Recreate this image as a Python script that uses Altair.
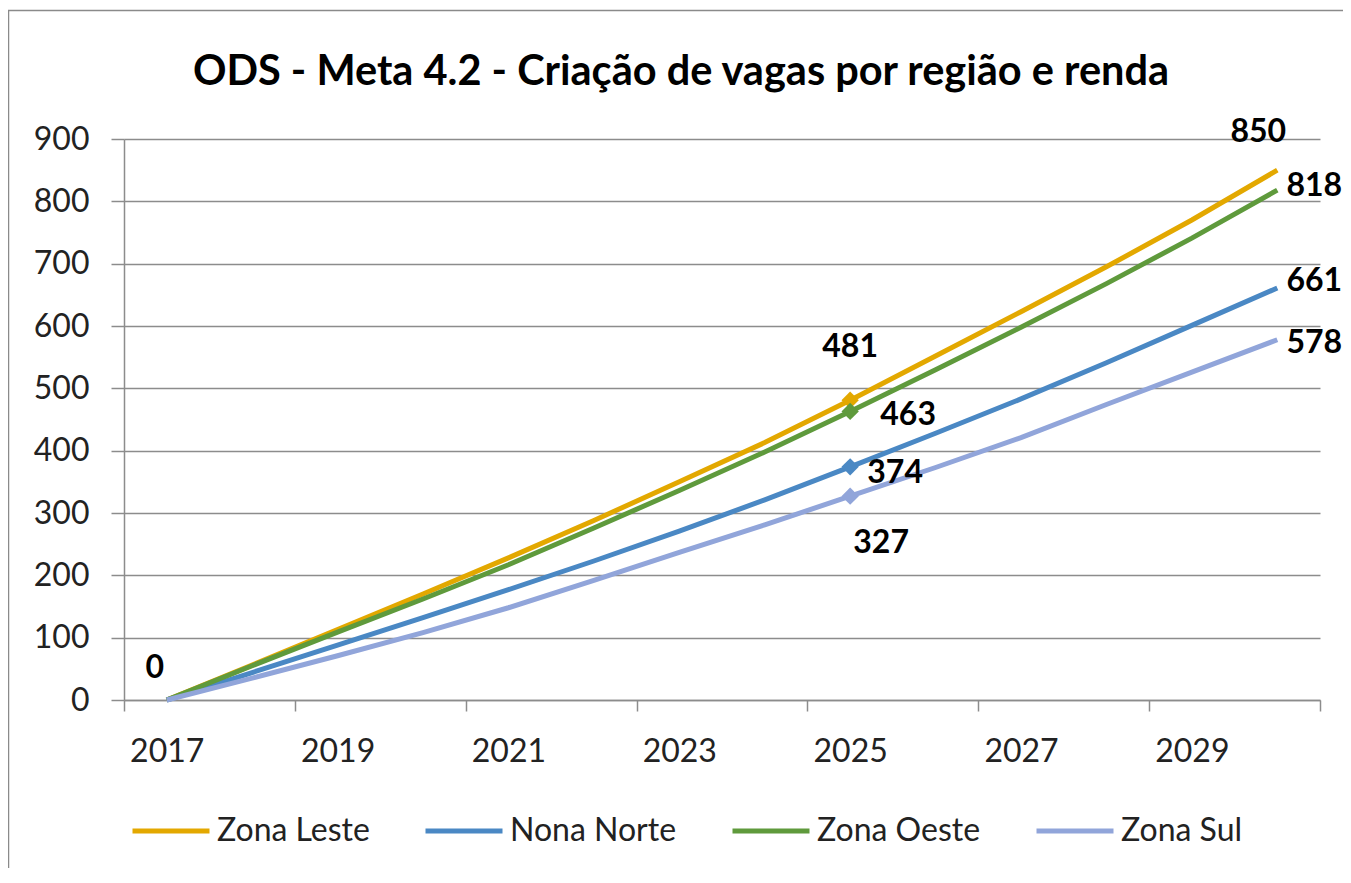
import altair as alt
import pandas as pd

# ---- data ----
years = list(range(2017, 2031))
series_names = ["Zona Leste", "Nona Norte", "Zona Oeste", "Zona Sul"]
zona_leste = [0, 56, 113, 170, 228, 288, 350, 413, 481, 552, 623, 695, 770, 850]
nona_norte = [0, 44, 88, 132, 177, 223, 271, 321, 374, 428, 483, 541, 601, 661]
zona_oeste = [0, 55, 109, 162, 217, 276, 336, 398, 463, 530, 598, 668, 741, 818]
zona_sul = [0, 35, 71, 108, 148, 192, 237, 281, 327, 373, 421, 474, 526, 578]
colors = ["#E3A800", "#4A88C4", "#5F9A3C", "#91A5DA"]
title_text = "ODS - Meta 4.2 - Criação de vagas por região e renda"
label_years = [2017, 2019, 2021, 2023, 2025, 2027, 2029]
tick_bounds = [2016.5, 2018.5, 2020.5, 2022.5, 2024.5, 2026.5, 2028.5, 2030.5]
y_ticks = [0, 100, 200, 300, 400, 500, 600, 700, 800, 900]
marker_year = 2025

# data labels: (series, year, dx, dy)
label_specs = [
    ("Zona Leste", 2017, -12, -32),
    ("Zona Leste", 2025, 0, -53),
    ("Zona Oeste", 2025, 58, 4),
    ("Nona Norte", 2025, 45, 6),
    ("Zona Sul", 2025, 31, 47),
    ("Zona Leste", 2030, -19, -38),
    ("Zona Oeste", 2030, 37, -4),
    ("Nona Norte", 2030, 37, -7),
    ("Zona Sul", 2030, 37, 3),
]

rows = []
for name, vals in zip(series_names, [zona_leste, nona_norte, zona_oeste, zona_sul]):
    for yr, v in zip(years, vals):
        rows.append({"ano": yr, "serie": name, "valor": v})
df = pd.DataFrame(rows)

FONT = "Lato"
GRID = "#8C8C8C"
axis_values = sorted(label_years + tick_bounds)

x_enc = alt.X(
    "ano:Q",
    scale=alt.Scale(domain=[2016.5, 2030.5], nice=False, zero=False),
    axis=alt.Axis(
        values=axis_values,
        labelExpr="datum.value % 1 == 0 ? toString(datum.value) : ''",
        tickOpacity={"condition": {"test": "datum.value % 1 == 0", "value": 0}, "value": 1},
        grid=False,
        title=None,
        tickSize=11,
        tickWidth=1.5,
        tickColor=GRID,
        domainColor=GRID,
        domainWidth=1.5,
        labelPadding=25,
        labelFont=FONT,
        labelFontSize=32,
        labelColor="#222222",
        labelOverlap=False,
        labelFlush=False,
    ),
)
y_enc = alt.Y(
    "valor:Q",
    scale=alt.Scale(domain=[0, 900], nice=False),
    axis=alt.Axis(
        values=y_ticks,
        title=None,
        grid=True,
        gridColor=GRID,
        gridWidth=1.5,
        tickSize=13,
        tickWidth=1.5,
        tickColor=GRID,
        domainColor=GRID,
        domainWidth=1.5,
        labelPadding=22,
        labelFont=FONT,
        labelFontSize=32,
        labelColor="#222222",
    ),
)
color_enc = alt.Color(
    "serie:N",
    scale=alt.Scale(domain=series_names, range=colors),
    sort=series_names,
    legend=alt.Legend(
        orient="none",
        legendX=6,
        legendY=651,
        direction="horizontal",
        title=None,
        symbolType="stroke",
        symbolStrokeWidth=5,
        symbolSize=5929,
        labelFont=FONT,
        labelFontSize=32,
        labelColor="#222222",
        labelOffset=5,
        labelLimit=400,
        columnPadding=45,
    ),
)

base = alt.Chart(df)
lines = base.mark_line(strokeWidth=5).encode(x=x_enc, y=y_enc, color=color_enc, order="ano:Q")
markers = (
    base.transform_filter(alt.datum.ano == marker_year)
    .mark_point(shape="diamond", filled=True, size=300, opacity=1)
    .encode(x="ano:Q", y="valor:Q", color=alt.Color("serie:N", legend=None))
)

label_layers = []
for s, yr, dx, dy in label_specs:
    label_layers.append(
        base.transform_filter((alt.datum.serie == s) & (alt.datum.ano == yr))
        .mark_text(dx=dx, dy=dy, font=FONT, fontSize=32, fontWeight="bold",
                   color="#000000", align="center", baseline="middle")
        .encode(x="ano:Q", y="valor:Q", text="valor:Q")
    )

title_layer = alt.Chart(pd.DataFrame({"t": [title_text]})).mark_text(
    font=FONT, fontSize=41.5, fontWeight="bold", color="#000000", align="center", baseline="middle"
).encode(x=alt.value(557), y=alt.value(-66), text="t:N")

border = alt.Chart(pd.DataFrame({"b": [0]})).mark_rect(
    fill="transparent", stroke="#8A8A8A", strokeWidth=1.5
).encode(x=alt.value(-115.5), x2=alt.value(1300), y=alt.value(-128.5), y2=alt.value(900))

chart = (
    alt.layer(border, lines, markers, *label_layers, title_layer)
    .properties(
        width=1196,
        height=561,
        autosize=alt.AutoSizeParams(type="none"),
        padding={"left": 116, "top": 131, "right": 23, "bottom": 168},
        background="white",
    )
    .configure_view(stroke="transparent")
)

chart.save("out.html", embed_options={"renderer": "svg", "actions": False})
